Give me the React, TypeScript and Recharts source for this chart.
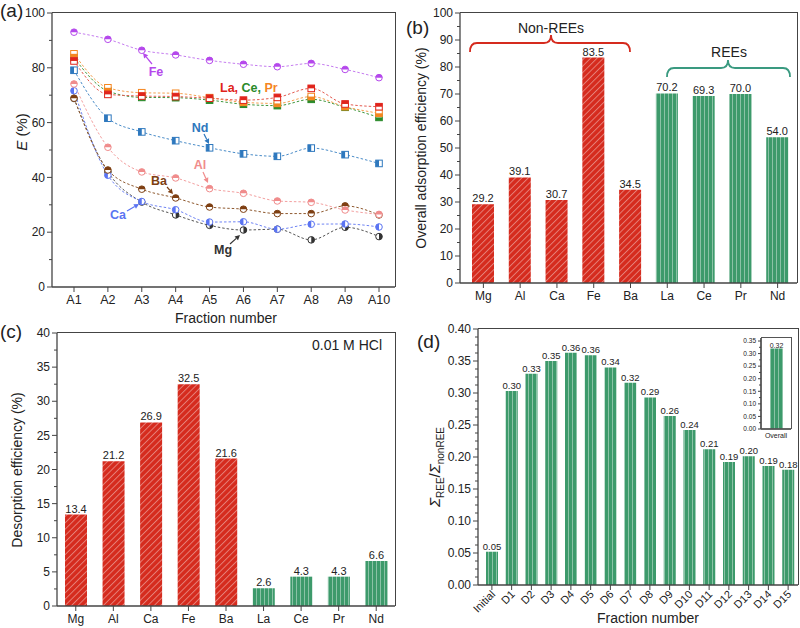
import React from 'react';
import { LineChart, Line, BarChart, Bar, XAxis, YAxis, LabelList, Cell } from 'recharts';

// ---- panel (a): E (%) per fraction ----
const fractions = ['A1', 'A2', 'A3', 'A4', 'A5', 'A6', 'A7', 'A8', 'A9', 'A10'];
const feE = [93.0, 90.4, 86.4, 84.7, 82.7, 81.3, 80.4, 81.6, 79.4, 76.4];
const laE = [82.5, 70.3, 69.7, 69.5, 68.9, 68.2, 69.2, 72.5, 66.8, 65.8];
const ceE = [83.7, 71.5, 69.2, 69.1, 68.2, 66.7, 66.2, 68.5, 65.6, 61.9];
const prE = [85.1, 72.7, 70.9, 70.7, 69.1, 67.4, 67.0, 69.5, 65.8, 63.4];
const ndE = [79.1, 61.6, 56.6, 53.4, 50.8, 48.6, 47.7, 50.7, 48.3, 45.1];
const alE = [74.1, 51.0, 42.0, 39.8, 35.9, 34.2, 31.4, 30.9, 28.1, 26.5];
const baE = [68.9, 42.7, 35.7, 32.5, 29.2, 28.4, 26.8, 26.8, 29.6, 26.3];
const caE = [71.6, 40.8, 31.2, 28.2, 23.7, 23.8, 21.1, 22.9, 23.0, 21.9];
const mgE = [68.8, 42.0, 31.0, 26.3, 22.5, 20.8, 21.1, 17.2, 21.8, 18.4];
const yTicksA = [0, 10, 20, 30, 40, 50, 60, 70, 80, 90, 100];

// ---- panels (b), (c): per element ----
const elements = ['Mg', 'Al', 'Ca', 'Fe', 'Ba', 'La', 'Ce', 'Pr', 'Nd'];
const isREE = [false, false, false, false, false, true, true, true, true];
const adsorption = [29.2, 39.1, 30.7, 83.5, 34.5, 70.2, 69.3, 70.0, 54.0];
const desorption = [13.4, 21.2, 26.9, 32.5, 21.6, 2.6, 4.3, 4.3, 6.6];
const yTicksB = [0, 5, 10, 15, 20, 25, 30, 35, 40, 45, 50, 55, 60, 65, 70, 75, 80, 85, 90, 95, 100];
const yTicksC = [0, 2.5, 5, 7.5, 10, 12.5, 15, 17.5, 20, 22.5, 25, 27.5, 30, 32.5, 35, 37.5, 40];

// ---- panel (d): REE / nonREE ratio ----
const fractionsD = ['Initial', 'D1', 'D2', 'D3', 'D4', 'D5', 'D6', 'D7', 'D8', 'D9', 'D10', 'D11', 'D12', 'D13', 'D14', 'D15'];
const ratio = [0.052, 0.303, 0.330, 0.350, 0.363, 0.359, 0.340, 0.316, 0.293, 0.264, 0.242, 0.212, 0.192, 0.201, 0.186, 0.180];
const overallCat = ['Overall'];
const overallRatio = [0.32];

const tickRange = (max: number, step: number) => {
  const out: number[] = [];
  for (let k = 0; k * step <= max + 1e-9; k++) out.push(Math.round(k * step * 10000) / 10000);
  return out;
};
const yTicksD = tickRange(0.4, 0.0125);
const yTicksInset = tickRange(0.35, 0.025);

const lineData = fractions.map((f, i) => ({
  f, fe: feE[i], la: laE[i], ce: ceE[i], pr: prE[i], nd: ndE[i], al: alE[i], ba: baE[i], ca: caE[i], mg: mgE[i],
}));
const adsData = elements.map((e, i) => ({ e, v: adsorption[i], ree: isREE[i] }));
const desData = elements.map((e, i) => ({ e, v: desorption[i], ree: isREE[i] }));
const ratioData = fractionsD.map((f, i) => ({ f, v: ratio[i] }));
const insetData = overallCat.map((f, i) => ({ f, v: overallRatio[i] }));

const RED = '#d52b1e';
const GREEN = '#3d9a6b';
const AXIS = '#444';
const FONT = '"Liberation Sans", Arial, sans-serif';

if (typeof document !== 'undefined') document.body.style.margin = '0';

function makeYTick(step: number, digits: number, fontSize: number, majorLen = 5, minorLen = 3) {
  return (props: any) => {
    const { x, y, payload } = props;
    const v = payload.value;
    const major = Math.abs(v / step - Math.round(v / step)) < 1e-6;
    return (
      <g>
        <line x1={x - (major ? majorLen : minorLen)} x2={x} y1={y} y2={y} stroke={AXIS} strokeWidth={1} />
        {major && (
          <text x={x - majorLen - 2} y={y} dy="0.35em" textAnchor="end" fontSize={fontSize} fill="#222" fontFamily={FONT}>
            {v.toFixed(digits)}
          </text>
        )}
      </g>
    );
  };
}

function makeXTick(fontSize: number, len = 5) {
  return (props: any) => {
    const { x, y, payload } = props;
    return (
      <g>
        <line x1={x} x2={x} y1={y} y2={y + len} stroke={AXIS} strokeWidth={1} />
        <text x={x} y={y + len + 2} dy="0.8em" textAnchor="middle" fontSize={fontSize} fill="#222" fontFamily={FONT}>
          {payload.value}
        </text>
      </g>
    );
  };
}

const RotXTick = (props: any) => {
  const { x, y, payload } = props;
  const tx = x + 4;
  const ty = y + 10;
  return (
    <g>
      <line x1={x} x2={x} y1={y} y2={y + 5} stroke={AXIS} strokeWidth={1} />
      <text x={tx} y={ty} textAnchor="end" fontSize={11} fill="#222" fontFamily={FONT} transform={`rotate(-45 ${tx} ${ty})`}>
        {payload.value}
      </text>
    </g>
  );
};

type Half = 'top' | 'bottom' | 'left' | 'right';
function halfDot(color: string, shape: 'circle' | 'square', half: Half, r = 3.3) {
  return (props: any) => {
    const { cx, cy, index } = props;
    if (cx == null || cy == null) return <g key={index} />;
    if (shape === 'circle') {
      let d = '';
      if (half === 'top') d = `M${cx - r},${cy} A${r},${r} 0 0 1 ${cx + r},${cy} Z`;
      if (half === 'bottom') d = `M${cx - r},${cy} A${r},${r} 0 0 0 ${cx + r},${cy} Z`;
      if (half === 'left') d = `M${cx},${cy - r} A${r},${r} 0 0 0 ${cx},${cy + r} Z`;
      if (half === 'right') d = `M${cx},${cy - r} A${r},${r} 0 0 1 ${cx},${cy + r} Z`;
      return (
        <g key={index}>
          <circle cx={cx} cy={cy} r={r} fill="#fff" stroke={color} strokeWidth={1} />
          <path d={d} fill={color} />
        </g>
      );
    }
    const hx = half === 'right' ? cx : cx - r;
    const hy = half === 'bottom' ? cy : cy - r;
    const hw = half === 'left' || half === 'right' ? r : 2 * r;
    const hh = half === 'top' || half === 'bottom' ? r : 2 * r;
    return (
      <g key={index}>
        <rect x={cx - r} y={cy - r} width={2 * r} height={2 * r} fill="#fff" stroke={color} strokeWidth={1} />
        <rect x={hx} y={hy} width={hw} height={hh} fill={color} />
      </g>
    );
  };
}

const series = [
  { key: 'mg', color: '#333333', line: '#555555', shape: 'circle' as const, half: 'right' as Half },
  { key: 'ca', color: '#5b74f2', line: '#6f84f4', shape: 'circle' as const, half: 'left' as Half },
  { key: 'ba', color: '#7e3f12', line: '#8f5a30', shape: 'circle' as const, half: 'top' as Half },
  { key: 'al', color: '#f08c8c', line: '#f3a0a0', shape: 'circle' as const, half: 'top' as Half },
  { key: 'nd', color: '#2e78be', line: '#4a8cc8', shape: 'square' as const, half: 'left' as Half },
  { key: 'ce', color: '#2a8a2a', line: '#3c963c', shape: 'square' as const, half: 'bottom' as Half },
  { key: 'pr', color: '#f5861f', line: '#f5a050', shape: 'square' as const, half: 'bottom' as Half },
  { key: 'la', color: '#e0241b', line: '#e45a50', shape: 'square' as const, half: 'top' as Half },
  { key: 'fe', color: '#b548ec', line: '#c57cf0', shape: 'circle' as const, half: 'top' as Half },
];

const Arrow = ({ x1, y1, x2, y2, color }: { x1: number; y1: number; x2: number; y2: number; color: string }) => {
  const a = Math.atan2(y2 - y1, x2 - x1);
  const L = 5;
  const W = 2.6;
  const bx = x2 - L * Math.cos(a);
  const by = y2 - L * Math.sin(a);
  const pts = `${x2},${y2} ${bx - W * Math.sin(a)},${by + W * Math.cos(a)} ${bx + W * Math.sin(a)},${by - W * Math.cos(a)}`;
  return (
    <g>
      <line x1={x1} y1={y1} x2={bx} y2={by} stroke={color} strokeWidth={1.2} />
      <polygon points={pts} fill={color} />
    </g>
  );
};

const abs = (left: number, top: number): React.CSSProperties => ({ position: 'absolute', left, top });

// top + right edges of each plot box (left and bottom come from the axes)
const Frame = ({ l, t, r, b, w = 1.3, c = AXIS }: { l: number; t: number; r: number; b: number; w?: number; c?: string }) => (
  <div style={{
    position: 'absolute', left: l, top: t - w / 2, width: r - l + w / 2, height: b - t + w / 2,
    borderTop: `${w}px solid ${c}`, borderRight: `${w}px solid ${c}`, boxSizing: 'border-box', pointerEvents: 'none',
  }} />
);

export default function App() {
  const barFill = (ree: boolean) => (ree ? 'url(#stripeGreen)' : 'url(#hatchRed)');
  return (
    <div style={{ position: 'relative', width: 800, height: 628, overflow: 'hidden', background: '#fff', fontFamily: FONT }}>
      <svg width={0} height={0} style={{ position: 'absolute' }}>
        <defs>
          <pattern id="hatchRed" patternUnits="userSpaceOnUse" width={4.5} height={4.5} patternTransform="rotate(45)">
            <rect width={4.5} height={4.5} fill={RED} />
            <line x1={0.5} y1={0} x2={0.5} y2={4.5} stroke="#fff" strokeWidth={0.7} strokeOpacity={0.55} />
          </pattern>
          <pattern id="stripeGreen" patternUnits="userSpaceOnUse" width={4} height={4}>
            <rect width={4} height={4} fill={GREEN} />
            <line x1={0.5} y1={0} x2={0.5} y2={4} stroke="#fff" strokeWidth={0.8} strokeOpacity={0.5} />
          </pattern>
        </defs>
      </svg>

      {/* (a) */}
      <div style={abs(0, 0)}>
        <LineChart width={400} height={310} data={lineData} margin={{ top: 13, right: 5, bottom: 0, left: 0 }}>
          <XAxis dataKey="f" padding={{ left: 22, right: 16 }} interval={0} tickSize={0} tickMargin={0} height={23}
            axisLine={{ stroke: AXIS, strokeWidth: 1.3 }} tick={makeXTick(12.5)} />
          <YAxis type="number" domain={[0, 100]} ticks={yTicksA} interval={0} width={52} tickSize={0} tickMargin={0}
            axisLine={{ stroke: AXIS, strokeWidth: 1.3 }} tick={makeYTick(20, 0, 12)} />
          {series.map((s) => (
            <Line key={s.key} dataKey={s.key} type="monotone" stroke={s.line} strokeWidth={1} strokeDasharray="2.5 2"
              dot={halfDot(s.color, s.shape, s.half)} activeDot={false} isAnimationActive={false} />
          ))}
        </LineChart>
      </div>
      <Frame l={52} t={13} r={395} b={287} />

      {/* (b) */}
      <div style={abs(400, 0)}>
        <BarChart width={400} height={310} data={adsData} margin={{ top: 13, right: 3, bottom: 0, left: 0 }}>
          <XAxis dataKey="e" padding={{ left: 5, right: 1 }} interval={0} tickSize={0} tickMargin={0} height={27}
            axisLine={{ stroke: AXIS, strokeWidth: 1.3 }} tick={makeXTick(12)} />
          <YAxis type="number" domain={[0, 100]} ticks={yTicksB} interval={0} width={60} tickSize={0} tickMargin={0}
            axisLine={{ stroke: AXIS, strokeWidth: 1.3 }} tick={makeYTick(10, 0, 12)} />
          <Bar dataKey="v" barSize={22} isAnimationActive={false}>
            {adsData.map((d, i) => (
              <Cell key={i} fill={barFill(d.ree)} />
            ))}
            <LabelList dataKey="v" position="top" offset={2} fontSize={11} fill="#222" formatter={(v: any) => Number(v).toFixed(1)} />
          </Bar>
        </BarChart>
      </div>
      <Frame l={460} t={13} r={797} b={283} />

      {/* (c) */}
      <div style={abs(0, 320)}>
        <BarChart width={400} height={308} data={desData} margin={{ top: 13, right: 5, bottom: 0, left: 0 }}>
          <XAxis dataKey="e" interval={0} tickSize={0} tickMargin={0} height={22}
            axisLine={{ stroke: AXIS, strokeWidth: 1.3 }} tick={makeXTick(12)} />
          <YAxis type="number" domain={[0, 40]} ticks={yTicksC} interval={0} width={57} tickSize={0} tickMargin={0}
            axisLine={{ stroke: AXIS, strokeWidth: 1.3 }} tick={makeYTick(5, 0, 12)} />
          <Bar dataKey="v" barSize={22} isAnimationActive={false}>
            {desData.map((d, i) => (
              <Cell key={i} fill={barFill(d.ree)} />
            ))}
            <LabelList dataKey="v" position="top" offset={2} fontSize={11} fill="#222" formatter={(v: any) => Number(v).toFixed(1)} />
          </Bar>
        </BarChart>
      </div>
      <Frame l={57} t={333} r={395} b={606} />

      {/* (d) */}
      <div style={abs(400, 320)}>
        <BarChart width={400} height={308} data={ratioData} margin={{ top: 9, right: 2, bottom: 0, left: 0 }}>
          <XAxis dataKey="f" padding={{ left: 4, right: 0 }} interval={0} tickSize={0} tickMargin={0} height={43}
            axisLine={{ stroke: AXIS, strokeWidth: 1.3 }} tick={RotXTick} />
          <YAxis type="number" domain={[0, 0.4]} ticks={yTicksD} interval={0} width={78} tickSize={0} tickMargin={0}
            axisLine={{ stroke: AXIS, strokeWidth: 1.3 }} tick={makeYTick(0.05, 2, 12, 5, 3)} />
          <Bar dataKey="v" barSize={12} fill="url(#stripeGreen)" isAnimationActive={false}>
            <LabelList dataKey="v" position="top" offset={2} fontSize={9.5} fill="#222" formatter={(v: any) => Number(v).toFixed(2)} />
          </Bar>
        </BarChart>
      </div>
      <Frame l={478} t={329} r={798} b={585} />

      {/* (d) inset */}
      <div style={abs(730, 330)}>
        <BarChart width={64} height={112} data={insetData} margin={{ top: 8, right: 3, bottom: 0, left: 0 }}>
          <XAxis dataKey="f" interval={0} tickSize={0} tickMargin={0} height={13}
            axisLine={{ stroke: '#555', strokeWidth: 1.8 }}
            tick={(p: any) => (
              <text x={p.x} y={p.y + 9} textAnchor="middle" fontSize={7} fill="#222" fontFamily={FONT}>{p.payload.value}</text>
            )} />
          <YAxis type="number" domain={[0, 0.362]} ticks={yTicksInset} interval={0} width={31} tickSize={0} tickMargin={0}
            axisLine={{ stroke: '#555', strokeWidth: 1.8 }} tick={makeYTick(0.05, 2, 6.5, 3, 2)} />
          <Bar dataKey="v" barSize={13} fill="url(#stripeGreen)" isAnimationActive={false}>
            <LabelList dataKey="v" position="top" offset={1} fontSize={7} fill="#222" formatter={(v: any) => Number(v).toFixed(2)} />
          </Bar>
        </BarChart>
      </div>
      <Frame l={761} t={338} r={791} b={429} w={1.8} c="#555" />

      {/* annotations, titles, panel letters */}
      <svg width={800} height={628} style={{ position: 'absolute', left: 0, top: 0, pointerEvents: 'none' }} fontFamily={FONT}>
        {/* (a) */}
        <text x={0} y={17} fontSize={19} fill="#222">(a)</text>
        <text transform="translate(27 132) rotate(-90)" textAnchor="middle" fontSize={15} fill="#222">
          <tspan fontStyle="italic">E</tspan> (%)
        </text>
        <text x={226} y={323} textAnchor="middle" fontSize={14} fill="#222">Fraction number</text>
        <text x={156} y={76} textAnchor="middle" fontSize={12.5} fontWeight="bold" fill="#b548ec">Fe</text>
        <Arrow x1={152} y1={64} x2={143} y2={53} color="#b548ec" />
        <text x={220} y={92} fontSize={12.5} fontWeight="bold">
          <tspan fill="#e0241b">La, </tspan>
          <tspan fill="#2a8a2a">Ce, </tspan>
          <tspan fill="#f5861f">Pr</tspan>
        </text>
        <text x={200} y={132} textAnchor="middle" fontSize={12.5} fontWeight="bold" fill="#2e78be">Nd</text>
        <Arrow x1={204} y1={134} x2={209} y2={144} color="#2e78be" />
        <text x={200} y={169} textAnchor="middle" fontSize={12.5} fontWeight="bold" fill="#f08c8c">Al</text>
        <Arrow x1={203} y1={172} x2={208} y2={183} color="#f08c8c" />
        <text x={159} y={185} textAnchor="middle" fontSize={12.5} fontWeight="bold" fill="#7e3f12">Ba</text>
        <Arrow x1={167} y1={187} x2={173} y2={194} color="#7e3f12" />
        <text x={118} y={219} textAnchor="middle" fontSize={12.5} fontWeight="bold" fill="#5b74f2">Ca</text>
        <Arrow x1={127} y1={211} x2={139} y2={204} color="#5b74f2" />
        <text x={223} y={254} textAnchor="middle" fontSize={12.5} fontWeight="bold" fill="#333">Mg</text>
        <Arrow x1={230} y1={244} x2={240} y2={235} color="#333" />

        {/* (b) */}
        <text x={406} y={34} fontSize={19} fill="#222">(b)</text>
        <text transform="translate(426 148) rotate(-90)" textAnchor="middle" fontSize={14} fill="#222">
          Overall adsorption efficiency (%)
        </text>
        <text x={551} y={33} textAnchor="middle" fontSize={14} fill="#222">Non-REEs</text>
        <path d="M470,52 Q470,43 477,43 L544,43 Q551,43 551,35 Q551,43 558,43 L623,43 Q630,43 630,52"
          fill="none" stroke={RED} strokeWidth={1.8} />
        <text x={729} y={57} textAnchor="middle" fontSize={14} fill="#222">REEs</text>
        <path d="M667,77 Q667,68 674,68 L721,68 Q728,68 728,60 Q728,68 735,68 L783,68 Q790,68 790,77"
          fill="none" stroke="#3a9a80" strokeWidth={1.8} />

        {/* (c) */}
        <text x={0} y={338} fontSize={19} fill="#222">(c)</text>
        <text transform="translate(22 470) rotate(-90)" textAnchor="middle" fontSize={14} fill="#222">
          Desorption efficiency (%)
        </text>
        <text x={347} y={350} textAnchor="middle" fontSize={14} fill="#222">0.01 M HCl</text>

        {/* (d) */}
        <text x={417} y={348} fontSize={19} fill="#222">(d)</text>
        <text transform="translate(440 467) rotate(-90)" textAnchor="middle" fontSize={15} fill="#222">
          <tspan fontStyle="italic">Σ</tspan>
          <tspan fontSize={10} dy={4}>REE</tspan>
          <tspan dy={-4}>/</tspan>
          <tspan fontStyle="italic">Σ</tspan>
          <tspan fontSize={10} dy={4}>nonREE</tspan>
        </text>
        <text x={648} y={623} textAnchor="middle" fontSize={14} fill="#222">Fraction number</text>
      </svg>
    </div>
  );
}
